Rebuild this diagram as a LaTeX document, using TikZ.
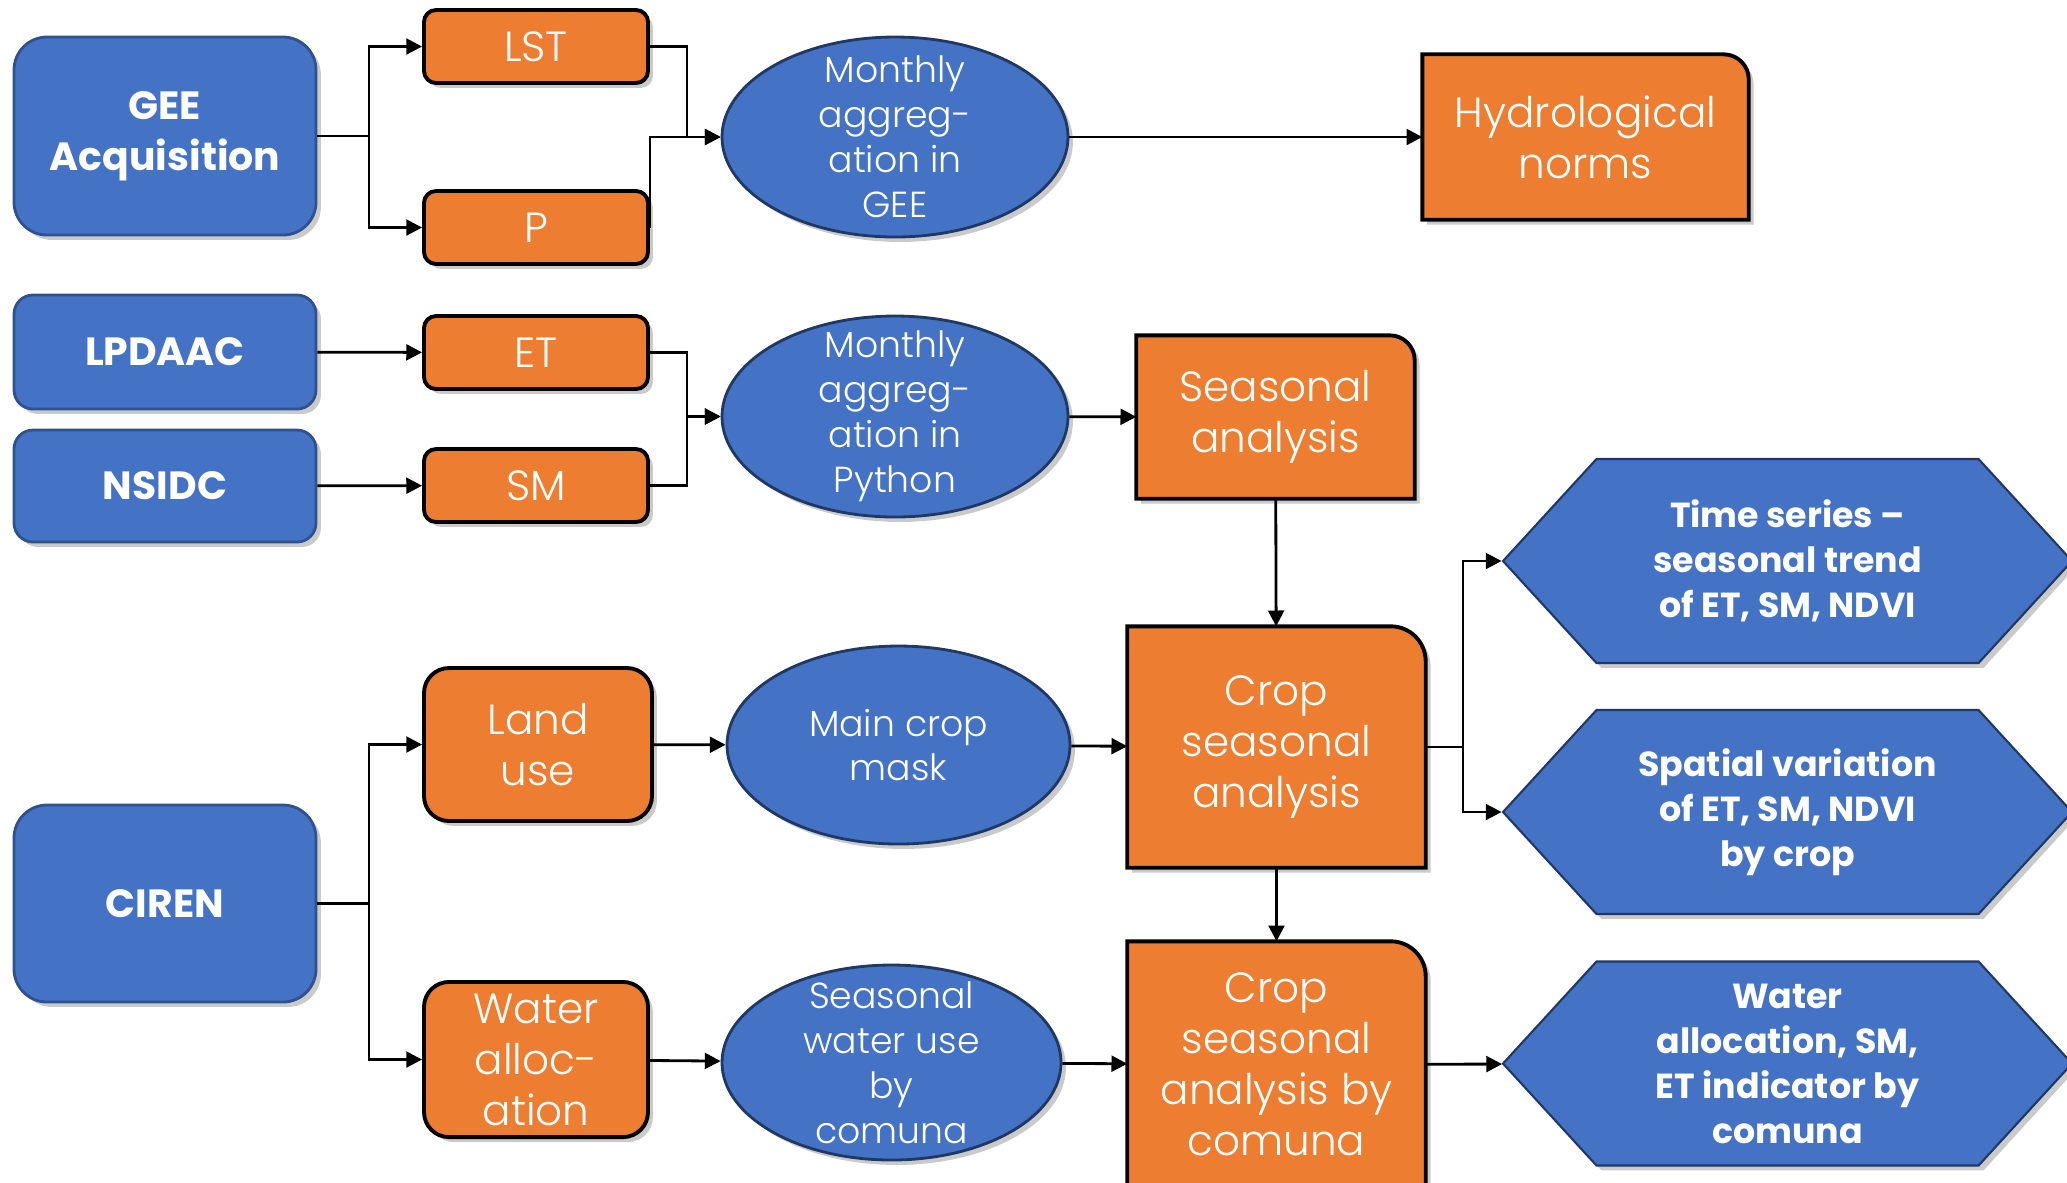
\documentclass[tikz,border=0pt]{standalone}
\usepackage{fontspec}
\setmainfont{Poppins}[UprightFont={* Light}, BoldFont={* Bold}]
\usetikzlibrary{positioning, shapes.geometric, shapes.symbols, shadows, arrows.meta, backgrounds}

\definecolor{gblue}{HTML}{4472C4}
\definecolor{gbluedark}{HTML}{2F528F}
\definecolor{gnavy}{HTML}{203864}
\definecolor{gorange}{HTML}{ED7D31}

\tikzset{
  shade/.style={drop shadow={shadow xshift=1.4pt, shadow yshift=-1.4pt, opacity=0.35, fill=black!60}},
  arr/.style={line width=0.8pt, -{Triangle[length=4.5pt, width=4.5pt]}},
  link/.style={line width=0.8pt},
  srcbox/.style={draw=gbluedark, line width=0.8pt, fill=gblue, rounded corners=#1, shade,
    text=white, align=center, font=\fontsize{11.2}{14.5}\selectfont\bfseries},
  srcbox/.default=0.33cm,
  databox/.style={draw=black, line width=1.1pt, fill=gorange, rounded corners=#1, shade,
    text=white, align=center, font=\fontsize{12}{14.5}\selectfont},
  databox/.default=0.12cm,
  cornertext/.style={text=white, align=center, font=\fontsize{12}{14.5}\selectfont},
  oval/.style={ellipse, draw=gnavy, line width=0.8pt, fill=gblue, shade, inner sep=-6pt,
    text=white, align=center, font=\fontsize{10.3}{12.8}\selectfont},
  hexa/.style={signal, signal to=west and east, signal pointer angle=95, draw=gnavy,
    line width=0.6pt, fill=gblue, shade, inner sep=0pt, minimum width=5.69cm, minimum height=2.04cm,
    text=white, align=center, font=\fontsize{9.9}{12.8}\selectfont\bfseries}
}

% orange box with only its top right corner rounded
\newcommand{\ocbox}[2]{%
  \filldraw[draw=black, line width=1.1pt, fill=gorange, shade]
    (#1.south west) -- (#1.north west) -- ([xshift=-#2]#1.north east)
    arc[start angle=90, end angle=0, radius=#2] -- (#1.south east) -- cycle;}

\begin{document}
\begin{tikzpicture}[x=1cm, y=-1cm]
  \useasboundingbox (0,0) rectangle (20.67,11.82);

  % sources
  \node[srcbox, minimum width=3.02cm, minimum height=1.98cm] (gee) at (1.65,1.36) {GEE\\Acquisition};
  \node[srcbox=0.19cm, minimum width=3.02cm, minimum height=1.14cm] (lpdaac) at (1.65,3.52) {LPDAAC};
  \node[srcbox=0.19cm, minimum width=3.02cm, minimum height=1.12cm] (nsidc) at (1.65,4.86) {NSIDC};
  \node[srcbox, minimum width=3.02cm, minimum height=1.97cm] (ciren) at (1.65,9.035) {CIREN};

  % variables
  \node[databox, minimum width=2.24cm, minimum height=0.73cm] (lst) at (5.36,0.465) {LST};
  \node[databox, minimum width=2.24cm, minimum height=0.73cm] (p) at (5.36,2.275) {P};
  \node[databox, minimum width=2.24cm, minimum height=0.73cm] (et) at (5.36,3.525) {ET};
  \node[databox, minimum width=2.24cm, minimum height=0.73cm] (sm) at (5.36,4.855) {SM};
  \node[databox=0.25cm, minimum width=2.28cm, minimum height=1.53cm] (land) at (5.38,7.445) {Land\\use};
  \node[databox=0.25cm, minimum width=2.24cm, minimum height=1.53cm] (water) at (5.36,10.595) {Water\\alloc-\\ation};

  % processing
  \node[oval, minimum width=3.46cm, minimum height=2.0cm] (agg1) at (8.95,1.37) {Monthly\\aggreg-\\ation in\\GEE};
  \node[oval, minimum width=3.46cm, minimum height=2.01cm] (agg2) at (8.95,4.165) {Monthly\\aggreg-\\ation in\\Python};
  \node[oval, minimum width=3.43cm, minimum height=1.98cm] (mask) at (8.985,7.45) {Main crop\\mask};
  \node[oval, minimum width=3.39cm, minimum height=1.95cm] (wuse) at (8.915,10.625) {Seasonal\\water use\\by\\comuna};

  % analyses
  \node[cornertext, minimum width=3.25cm, minimum height=1.64cm] (hydro) at (15.855,1.37) {Hydrological\\norms};
  \node[cornertext, minimum width=2.77cm, minimum height=1.62cm] (seas) at (12.755,4.17) {Seasonal\\analysis};
  \node[cornertext, minimum width=2.97cm, minimum height=2.40cm] (crop) at (12.765,7.47) {Crop\\seasonal\\analysis};
  \node[cornertext, minimum width=2.97cm, minimum height=2.45cm] (cropc) at (12.765,10.645) {Crop\\seasonal\\analysis by\\comuna};
  \begin{scope}[on background layer]
    \ocbox{hydro}{0.25cm}
    \ocbox{seas}{0.25cm}
    \ocbox{crop}{0.35cm}
    \ocbox{cropc}{0.35cm}
  \end{scope}

  % outputs
  \node[hexa] (ts) at (17.875,5.61) {Time series --\\seasonal trend\\of ET, SM, NDVI};
  \node[hexa] (sv) at (17.875,8.12) {Spatial variation\\of ET, SM, NDVI\\by crop};
  \node[hexa] (wa) at (17.875,10.635) {Water\\allocation, SM,\\ET indicator by\\comuna};

  % junctions
  \coordinate (sp1) at (3.69,1.36);
  \coordinate (sp3) at (3.69,9.035);
  \coordinate (sp4) at (14.63,7.47);

  % connectors
  \draw[link] (gee) -- (sp1);
  \draw[arr] (sp1) |- (lst);
  \draw[arr] (sp1) |- (p);
  \draw[arr] (lst.east) -- ++(0.37,0) |- (agg1);
  \draw[arr] (p.east) |- (agg1);
  \draw[arr] (agg1) -- (hydro);

  \draw[arr] (lpdaac) -- (et);
  \draw[arr] (nsidc) -- (sm);
  \draw[arr] (et.east) -- ++(0.37,0) |- (agg2);
  \draw[arr] (sm.east) -- ++(0.37,0) |- (agg2);
  \draw[arr] (agg2) -- (seas);
  \draw[arr] (seas) -- (crop);

  \draw[link] (ciren) -- (sp3);
  \draw[arr] (sp3) |- (land);
  \draw[arr] (sp3) |- (water);
  \draw[arr] (land) -- (mask);
  \draw[arr] (water) -- (wuse);
  \draw[arr] (mask) -- (crop);
  \draw[arr] (wuse) -- (cropc);
  \draw[arr] (crop) -- (cropc);

  \draw[link] (crop) -- (sp4);
  \draw[arr] (sp4) |- (ts);
  \draw[arr] (sp4) |- (sv);
  \draw[arr] (cropc) -- (wa);
\end{tikzpicture}
\end{document}
